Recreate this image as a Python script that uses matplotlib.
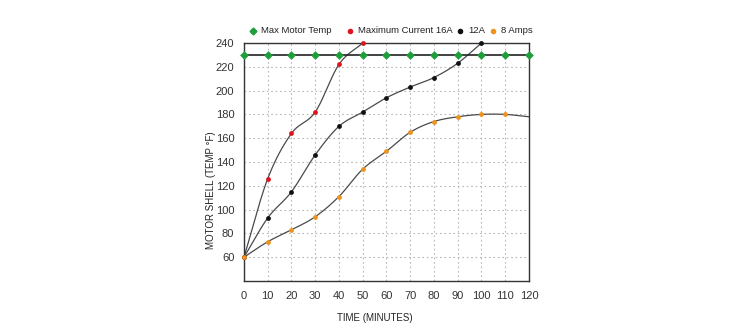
import numpy as np
import matplotlib.pyplot as plt
from matplotlib.lines import Line2D

plt.rcParams['font.family'] = ['Liberation Sans', 'DejaVu Sans']

# time axis (minutes)
minutes = [0, 10, 20, 30, 40, 50, 60, 70, 80, 90, 100, 110, 120]
max_motor_temp = [230] * 13

t_16a = [0, 10, 20, 30, 40, 50]
temp_16a = [60, 126, 164, 182, 222, 240]

t_12a = [0, 10, 20, 30, 40, 50, 60, 70, 80, 90, 100]
temp_12a = [60, 93, 115, 146, 170, 182, 194, 203, 211, 223, 240]

t_8a = [0, 10, 20, 30, 40, 50, 60, 70, 80, 90, 100, 110, 120]
temp_8a = [60, 73, 83, 94, 111, 134, 149, 165, 174, 178, 180, 180, 178]
n_marked_8a = 12  # last point is line only

x_ticks = [0, 10, 20, 30, 40, 50, 60, 70, 80, 90, 100, 110, 120]
y_ticks = [60, 80, 100, 120, 140, 160, 180, 200, 220, 240]

legend_labels = ['Max Motor Temp', 'Maximum Current 16A', '12A', '8 Amps']


def smooth(x, y, steps=30):
    # catmull-rom curve through the points
    x = np.asarray(x, float)
    y = np.asarray(y, float)
    px = np.concatenate([[2 * x[0] - x[1]], x, [2 * x[-1] - x[-2]]])
    py = np.concatenate([[2 * y[0] - y[1]], y, [2 * y[-1] - y[-2]]])
    xs, ys = [], []
    t = np.linspace(0, 1, steps)
    for i in range(1, len(px) - 2):
        for arr, out in ((px, xs), (py, ys)):
            p0, p1, p2, p3 = arr[i - 1], arr[i], arr[i + 1], arr[i + 2]
            out.extend(0.5 * (2 * p1 + (-p0 + p2) * t
                              + (2 * p0 - 5 * p1 + 4 * p2 - p3) * t ** 2
                              + (-p0 + 3 * p1 - 3 * p2 + p3) * t ** 3))
    return xs, ys


green = '#1f9e3c'
red = '#e0141c'
black = '#111111'
orange = '#f0921e'
curve = '#4a4a4a'

fig = plt.figure(figsize=(7.5, 3.32), dpi=100)
ax = fig.add_axes([0.3253, 0.1536, 0.38, 0.7169])

for tx, ty, col, n in ((t_16a, temp_16a, red, len(t_16a)),
                       (t_12a, temp_12a, black, len(t_12a)),
                       (t_8a, temp_8a, orange, n_marked_8a)):
    sx, sy = smooth(tx, ty)
    ax.plot(sx, sy, color=curve, lw=0.9, zorder=2, clip_on=False)
    ax.scatter(tx[:n], ty[:n], s=12, color=col, zorder=4, clip_on=False,
               linewidths=0)

ax.plot(minutes, max_motor_temp, color='#222222', lw=1.2, zorder=3,
        clip_on=False)
ax.scatter(minutes, max_motor_temp, s=20, marker='D', color=green, zorder=5,
           clip_on=False, linewidths=0)

ax.set_xlim(0, 120)
ax.set_ylim(40, 240)
ax.set_xticks(x_ticks)
ax.set_yticks(y_ticks)
ax.tick_params(length=0, labelsize=8, colors='#333333', pad=7)
ax.grid(True, color='#b8b8b8', ls=(0, (1.5, 2.5)), lw=0.8)
ax.set_axisbelow(True)
for s in ax.spines.values():
    s.set_color('#333333')
    s.set_linewidth(1.0)

ax.set_xlabel('TIME (MINUTES)', fontsize=7, color='#222222')
ax.xaxis.set_label_coords(0.46, -0.135)
ax.set_ylabel('MOTOR SHELL (TEMP °F)', fontsize=7, color='#222222')
ax.yaxis.set_label_coords(-0.097, 0.382)

# legend row above the plot, one marker + label per series
leg_markers = ['D', 'o', 'o', 'o']
leg_sizes = [3.5, 3, 3, 3]
leg_colors = [green, red, black, orange]
leg_x = [253, 350, 460, 493]
leg_y = 0.9075
for lx, mk, ms, col, lab in zip(leg_x, leg_markers, leg_sizes, leg_colors,
                                 legend_labels):
    fig.add_artist(Line2D([lx / 750], [leg_y], marker=mk, ms=ms, color=col,
                          ls='none', transform=fig.transFigure))
    fig.text((lx + 8) / 750, leg_y, lab, fontsize=6.8, color='#222222',
             va='center', ha='left')

fig.savefig('out.png', dpi=100)
